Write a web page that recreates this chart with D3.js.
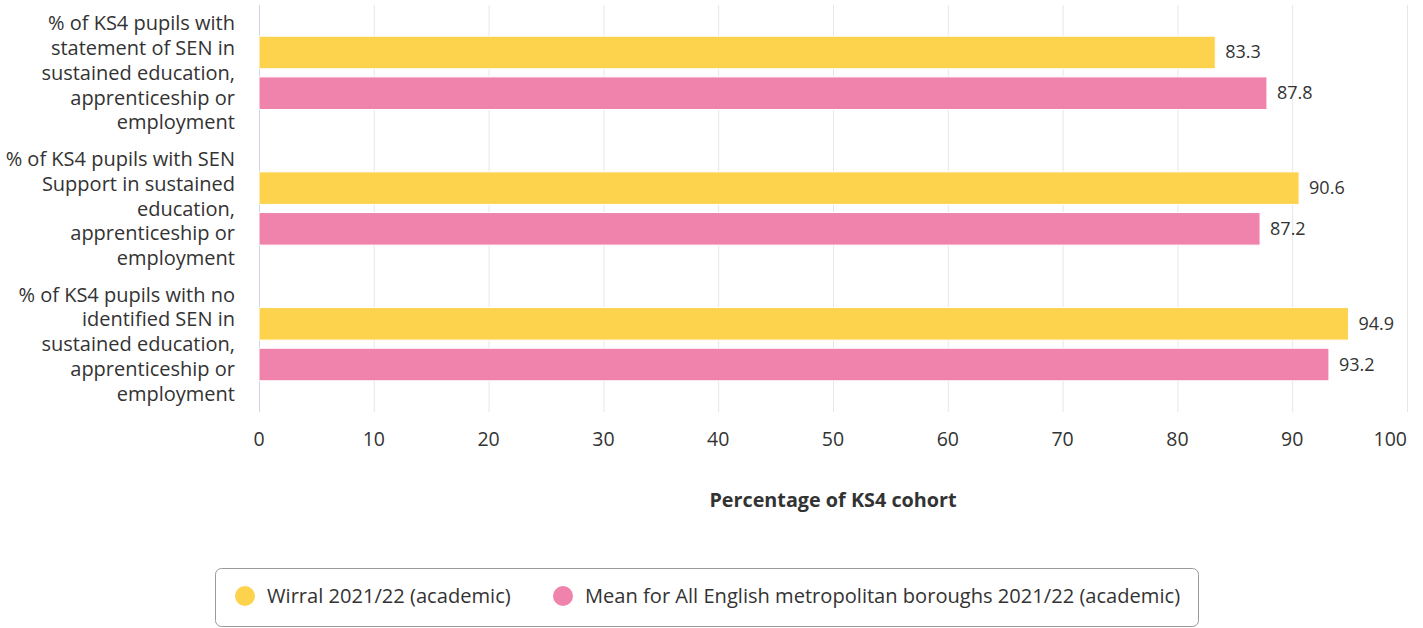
<!DOCTYPE html>
<html lang="en">
<head>
<meta charset="utf-8">
<style>
  body { margin: 0; background: #fff; font-family: "Open Sans", sans-serif; }
  .grid line { stroke: #e6e6e6; stroke-width: 1px; }
  .cat-label, .tick-label, .value-label, .legend-text { fill: #333; }
</style>
</head>
<body>
<script src="https://cdn.jsdelivr.net/npm/d3@7/dist/d3.min.js"></script>
<script>
// data
var categories = [
  ["% of KS4 pupils with", "statement of SEN in", "sustained education,", "apprenticeship or", "employment"],
  ["% of KS4 pupils with SEN", "Support in sustained", "education,", "apprenticeship or", "employment"],
  ["% of KS4 pupils with no", "identified SEN in", "sustained education,", "apprenticeship or", "employment"]
];
var seriesNames = ["Wirral 2021/22 (academic)", "Mean for All English metropolitan boroughs 2021/22 (academic)"];
var wirral = [83.3, 90.6, 94.9];
var metroMean = [87.8, 87.2, 93.2];
var xTicks = [0, 10, 20, 30, 40, 50, 60, 70, 80, 90, 100];
var colors = ["#fdd34e", "#ef83ab"];

var width = 1423, height = 628;
var plotLeft = 259, plotRight = 1407, plotTop = 5, plotBottom = 412;

var svg = d3.select("body").append("svg")
  .attr("width", width)
  .attr("height", height);

var x = d3.scaleLinear().domain([0, 100]).range([plotLeft, plotRight]);
var y0 = d3.scaleBand().domain(d3.range(categories.length)).range([plotTop, plotBottom]);
var bw = y0.bandwidth();
var y1 = d3.scaleBand().domain([0, 1])
  .range([bw * 0.2, bw * 0.8])
  .paddingInner(0.2).paddingOuter(0.1);

// gridlines
svg.append("g").attr("class", "grid")
  .selectAll("line")
  .data(xTicks.slice(1))
  .enter().append("line")
  .attr("x1", function (d) { return x(d) + 0.5; })
  .attr("x2", function (d) { return x(d) + 0.5; })
  .attr("y1", plotTop)
  .attr("y2", plotBottom);

// y axis line
svg.append("line")
  .attr("x1", plotLeft + 0.5).attr("x2", plotLeft + 0.5)
  .attr("y1", plotTop).attr("y2", plotBottom)
  .style("stroke", "#ccd6eb");

// tick labels (last one kept inside the chart)
svg.selectAll(".tick-label")
  .data(xTicks)
  .enter().append("text")
  .attr("class", "tick-label")
  .attr("x", function (d) { return x(d); })
  .attr("y", 446)
  .attr("text-anchor", function (d, i) { return i === xTicks.length - 1 ? "end" : "middle"; })
  .attr("font-size", 19.5)
  .text(function (d) { return d; });

// axis title
svg.append("text")
  .attr("x", (plotLeft + plotRight) / 2)
  .attr("y", 507)
  .attr("text-anchor", "middle")
  .attr("font-size", 19.8)
  .attr("font-weight", "bold")
  .attr("fill", "#333")
  .text("Percentage of KS4 cohort");

// category labels
var lineH = 24.8;
svg.selectAll(".cat-label")
  .data(categories)
  .enter().append("text")
  .attr("class", "cat-label")
  .attr("text-anchor", "end")
  .attr("font-size", 20)
  .each(function (lines, i) {
    var cy = y0(i) + bw / 2;
    var startY = cy - (lines.length - 1) * lineH / 2 + 7;
    d3.select(this).selectAll("tspan")
      .data(lines)
      .enter().append("tspan")
      .attr("x", 235)
      .attr("y", function (d, j) { return startY + j * lineH; })
      .text(function (d) { return d; });
  });

// bars
var series = [wirral, metroMean];
series.forEach(function (vals, s) {
  var g = svg.append("g");
  g.selectAll("rect")
    .data(vals)
    .enter().append("rect")
    .attr("x", x(0))
    .attr("y", function (d, i) { return y0(i) + y1(s); })
    .attr("width", function (d) { return x(d) - x(0); })
    .attr("height", y1.bandwidth())
    .attr("fill", colors[s])
    .attr("stroke", "#fff")
    .attr("stroke-width", 1);
  g.selectAll("text")
    .data(vals)
    .enter().append("text")
    .attr("class", "value-label")
    .attr("x", function (d) { return x(d) + 10; })
    .attr("y", function (d, i) { return y0(i) + y1(s) + y1.bandwidth() / 2 + 6; })
    .attr("font-size", 18)
    .text(function (d) { return d.toFixed(1); });
});

// legend
var legend = svg.append("g");
legend.append("rect")
  .attr("x", 215.5).attr("y", 568.5)
  .attr("width", 983).attr("height", 58)
  .attr("rx", 6).attr("ry", 6)
  .attr("fill", "#fff")
  .attr("stroke", "#999");
var legendX = [245, 563];
seriesNames.forEach(function (name, i) {
  legend.append("circle")
    .attr("cx", legendX[i]).attr("cy", 596)
    .attr("r", 10)
    .attr("fill", colors[i]);
  legend.append("text")
    .attr("class", "legend-text")
    .attr("x", legendX[i] + 22)
    .attr("y", 603)
    .attr("font-size", 20.1)
    .text(name);
});
</script>
</body>
</html>
